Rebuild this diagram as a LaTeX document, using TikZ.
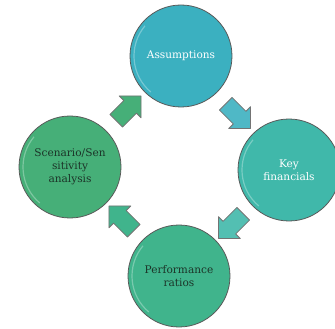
\documentclass[tikz,border=0pt]{standalone}
\usepackage{fontspec}
\setmainfont{DejaVu Serif}
\usetikzlibrary{shapes.arrows,calc}
\definecolor{asmcol}{RGB}{59,176,192}
\definecolor{keycol}{RGB}{64,184,170}
\definecolor{perfcol}{RGB}{64,180,140}
\definecolor{scencol}{RGB}{70,175,120}
\definecolor{darktext}{RGB}{28,52,40}
\begin{document}
\begin{tikzpicture}[x=1bp,y=1bp,
  stage/.style={circle,draw=black!65,line width=0.8bp,minimum size=102bp,inner sep=1bp,
    align=center,font=\fontsize{10.6}{12.8}\selectfont},
  blockarr/.style={single arrow,draw=black!55,line width=0.8bp,minimum height=35bp,
    inner sep=8.5bp,single arrow head extend=6.5bp,line join=round}]
\useasboundingbox (0,0) rectangle (335,329);
\node[stage,fill=asmcol,text=white] (asm) at (181,273) {Assumptions};
\node[stage,fill=keycol,text=white] (key) at (289,159) {Key\\financials};
\node[stage,fill=perfcol,text=darktext] (perf) at (179,53) {Performance\\ratios};
\node[stage,fill=scencol,text=darktext] (scen) at (70,162) {Scenario/Sen\\sitivity\\analysis};
\foreach \n in {asm,key,perf,scen}
  \draw[white,opacity=.3,line width=1.2bp] ($(\n)+(140:47)$) arc[start angle=140,end angle=230,radius=47];
\node[blockarr,fill=asmcol!90!white,rotate=-45] (asm-key) at ($(asm)!.5!(key)$) {};
\node[blockarr,fill=keycol!90!white,rotate=-135] (key-perf) at ($(key)!.5!(perf)$) {};
\node[blockarr,fill=perfcol,rotate=135] (perf-scen) at ($(perf)!.5!(scen)$) {};
\node[blockarr,fill=scencol,rotate=45] (scen-asm) at ($(scen)!.5!(asm)$) {};
\end{tikzpicture}
\end{document}
